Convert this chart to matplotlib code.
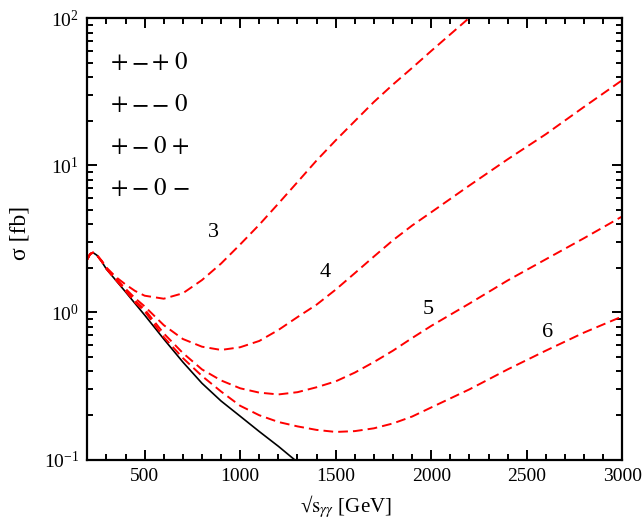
import matplotlib
matplotlib.use("Agg")
import matplotlib.pyplot as plt
from matplotlib.ticker import MultipleLocator, LogLocator

plt.rcParams["font.family"] = "serif"
plt.rcParams["font.serif"] = ["Liberation Serif", "DejaVu Serif"]
plt.rcParams["mathtext.fontset"] = "stix"

# sqrt(s_gg) in GeV
x_sm = [200, 215, 230, 250, 275, 300, 350, 400, 450, 500, 600, 700, 800, 900,
        1000, 1100, 1200, 1300]
y_sm = [2.3, 2.5, 2.55, 2.45, 2.22, 1.97, 1.65, 1.38, 1.15, 0.96, 0.66, 0.46,
        0.33, 0.25, 0.197, 0.155, 0.123, 0.096]

x_grid = [200, 215, 230, 250, 275, 300, 350, 400, 450, 500, 600, 700, 800, 900,
          1000, 1100, 1200, 1300, 1400, 1500, 1600, 1700, 1800, 1900, 2000,
          2200, 2400, 2600, 2800, 3000]

y_n3 = [2.3, 2.5, 2.55, 2.45, 2.25, 2.02, 1.74, 1.55, 1.4, 1.3, 1.24, 1.35,
        1.66, 2.15, 2.9, 3.95, 5.5, 7.7, 10.8, 14.8, 20.0, 27.0, 35.5, 46.0,
        60.0, 101.0]
y_n4 = [2.3, 2.5, 2.55, 2.45, 2.24, 2.0, 1.7, 1.45, 1.25, 1.1, 0.82, 0.66,
        0.585, 0.556, 0.58, 0.64, 0.76, 0.93, 1.13, 1.43, 1.85, 2.4, 3.1, 3.9,
        4.8, 7.3, 11.0, 16.3, 25.0, 38.0]
y_n5 = [2.3, 2.5, 2.55, 2.45, 2.23, 1.99, 1.67, 1.42, 1.2, 1.05, 0.72, 0.53,
        0.41, 0.345, 0.305, 0.285, 0.277, 0.287, 0.31, 0.34, 0.39, 0.46, 0.55,
        0.67, 0.81, 1.15, 1.65, 2.3, 3.2, 4.5]
y_n6 = [2.3, 2.5, 2.55, 2.45, 2.23, 1.98, 1.66, 1.4, 1.17, 1.02, 0.68, 0.49,
        0.37, 0.29, 0.232, 0.2, 0.18, 0.168, 0.159, 0.154, 0.156, 0.163, 0.176,
        0.196, 0.226, 0.3, 0.41, 0.55, 0.73, 0.94]

curve_labels = ["3", "4", "5", "6"]
label_x = [859, 1445, 1983, 2611]
label_y = [3.49, 1.87, 1.05, 0.73]

helicities = [["+", "−", "+", "0"], ["+", "−", "−", "0"],
              ["+", "−", "0", "+"], ["+", "−", "0", "−"]]

fig = plt.figure(figsize=(6.43, 5.2), dpi=100)
ax = fig.add_axes([0.1358, 0.1163, 0.8320, 0.8485])

ax.plot(x_sm, y_sm, color="black", lw=1.2)
for ys in [y_n3, y_n4, y_n5, y_n6]:
    ax.plot(x_grid[:len(ys)], ys, color="#ff0000", lw=1.4, dashes=(5, 2.6))

for t, lx, ly in zip(curve_labels, label_x, label_y):
    ax.text(lx, ly, t, fontsize=16, ha="center", va="center")

# helicity combinations, one symbol at a time so the gaps match
for i, h in enumerate(helicities):
    for j, sym in enumerate(h):
        ax.text(0.059 + j * 0.0385, 0.899 - i * 0.095, sym,
                transform=ax.transAxes, fontsize=18, family="STIXGeneral",
                ha="center", va="center")

ax.set_yscale("log")
ax.set_xlim(200, 3000)
ax.set_ylim(0.1, 100)
ax.xaxis.set_major_locator(MultipleLocator(500))
ax.xaxis.set_minor_locator(MultipleLocator(100))
ax.yaxis.set_major_locator(LogLocator(base=10))
ax.yaxis.set_minor_locator(LogLocator(base=10, subs=range(2, 10)))

ax.tick_params(which="both", direction="in", top=True, right=True, width=1.4)
ax.tick_params(which="major", length=7, labelsize=14, pad=6)
ax.tick_params(which="minor", length=4)
for s in ax.spines.values():
    s.set_linewidth(1.6)

ax.set_xlabel("√" + r"$\mathrm{s}_{\gamma\gamma}$ [GeV]", fontsize=15)
ax.xaxis.set_label_coords(0.484, -0.075)
ax.set_ylabel("σ [fb]", fontsize=17)
ax.yaxis.set_label_coords(-0.107, 0.513)

fig.savefig("out.png", dpi=100)
